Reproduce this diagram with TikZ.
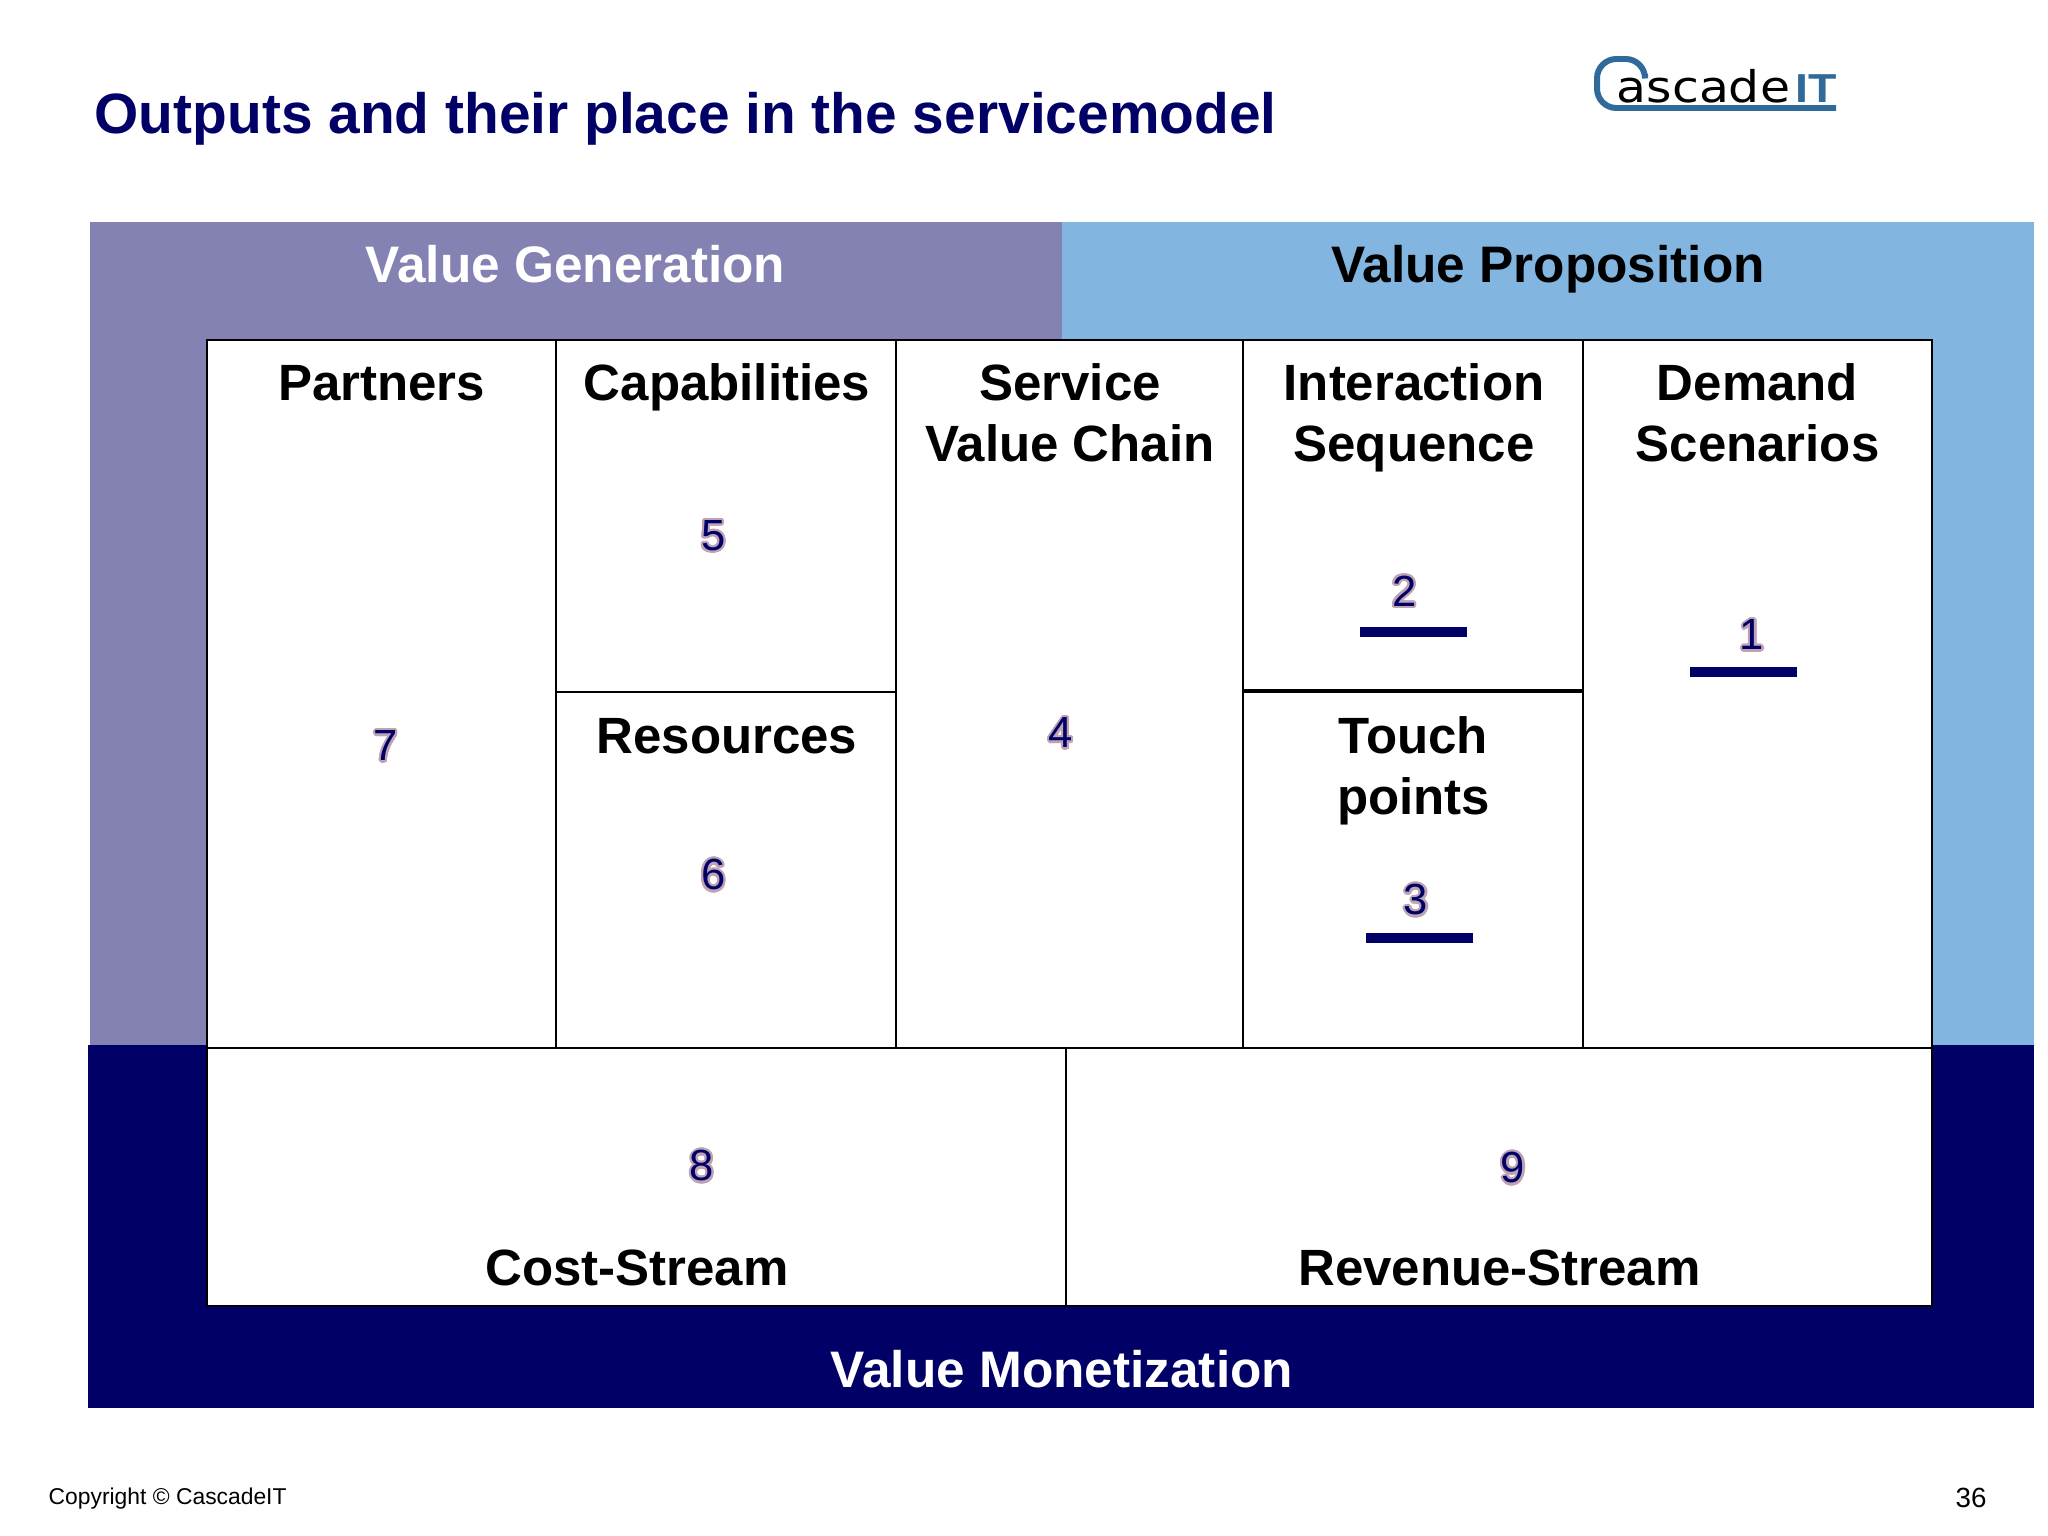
\documentclass[tikz,border=0pt]{standalone}
\usepackage{fontspec}
\usepackage{contour}
\setmainfont{Liberation Sans}
\newfontfamily\logofont{DejaVu Sans}
\contourlength{0.6pt}
\contournumber{24}
\definecolor{genblue}{HTML}{8481B3}
\definecolor{propblue}{HTML}{82B6E0}
\definecolor{navyblue}{HTML}{000066}
\definecolor{logoblue}{HTML}{2F6A9B}
\definecolor{rimcolor}{HTML}{BFA3B5}
\newcommand{\outnum}[1]{\contour{rimcolor}{\textcolor{navyblue}{#1}}}

\begin{document}
\begin{tikzpicture}[x=0.01cm,y=-0.01cm]
	
	\tikzset{cell/.style = {draw=black,fill=white,line width=0.55pt}}
	\tikzset{band/.style = {anchor=base,font=\fontsize{14.6}{17}\selectfont\bfseries}}
	\tikzset{head/.style = {font=\fontsize{14.5}{17.2}\selectfont\bfseries,align=center,inner sep=0pt}}
	\tikzset{number/.style = {font=\fontsize{12.4}{14}\selectfont,inner sep=0pt}}
	\tikzset{rulebar/.style = {fill=navyblue,draw=none}}
	
	\useasboundingbox (0,0) rectangle (2048,1536);
	
	% title and logo
	\node[anchor=west,inner sep=0pt,text=navyblue,font=\fontsize{16.17}{20}\selectfont\bfseries] (title) at (94,119) {Outputs and their place in the servicemodel};
	\draw[logoblue,line width=1.7pt,rounded corners=5.5pt] (1645,74) -- (1645,59) -- (1597,59) -- (1597,108) -- (1836,108);
	\node[anchor=base west,inner sep=0pt,xscale=1.12,transform shape,font=\logofont\fontsize{12.4}{16}\selectfont] (ascade) at (1616,102) {ascade};
	\node[anchor=base west,inner sep=0pt,xscale=1.15,transform shape,text=logoblue,font=\fontsize{11.5}{12}\selectfont\bfseries] (it) at (1795,102) {IT};
	
	% coloured bands
	\fill[genblue] (90,222) rectangle (1062,1046);
	\fill[propblue] (1062,222) rectangle (2034,1046);
	\fill[navyblue] (88,1045) rectangle (2034,1408);
	
	\node[band,text=white] (generation) at (575.5,282) {Value Generation};
	\node[band,text=black] (proposition) at (1548,282) {Value Proposition};
	\node[band,text=white] (monetization) at (1062,1387) {Value Monetization};
	
	% cells
	\draw[cell] (207,340) rectangle (556,1048);
	\draw[cell] (556,340) rectangle (896,692);
	\draw[cell] (556,692) rectangle (896,1048);
	\draw[cell] (896,340) rectangle (1243,1048);
	\draw[cell] (1243,340) rectangle (1583,690);
	\draw[cell] (1243,692) rectangle (1583,1048);
	\draw[cell] (1583,340) rectangle (1932,1048);
	\draw[cell] (207,1048) rectangle (1066,1306);
	\draw[cell] (1066,1048) rectangle (1932,1306);
	
	% cell titles
	\node[head,anchor=base] (partners) at (381.5,400) {Partners};
	\node[head,anchor=base] (capabilities) at (727,400) {Capabilities};
	\node[head,anchor=north] (chain) at (1070,363) {Service\\Value Chain};
	\node[head,anchor=north] (interaction) at (1414,363) {Interaction\\Sequence};
	\node[head,anchor=north] (scenarios) at (1757.5,363) {Demand\\Scenarios};
	\node[head,anchor=base] (resources) at (727,753) {Resources};
	\node[head,anchor=north] (touch) at (1413.5,716) {Touch\\points};
	\node[head,anchor=base] (cost) at (637,1285) {Cost-Stream};
	\node[head,anchor=base] (revenue) at (1499.5,1285) {Revenue-Stream};
	
	% output numbers
	\node[number] (one) at (1752,636) {\outnum{1}};
	\node[number] (two) at (1404.5,592) {\outnum{2}};
	\node[number] (three) at (1416,901) {\outnum{3}};
	\node[number] (four) at (1061,734) {\outnum{4}};
	\node[number] (five) at (713.5,537) {\outnum{5}};
	\node[number] (six) at (713.5,876) {\outnum{6}};
	\node[number] (seven) at (386,747) {\outnum{7}};
	\node[number] (eight) at (702,1167) {\outnum{8}};
	\node[number] (nine) at (1513,1169) {\outnum{9}};
	
	% bars under numbers
	\fill[rulebar] (1360,626.5) rectangle (1467,636.5);
	\fill[rulebar] (1690,666.5) rectangle (1797,676.5);
	\fill[rulebar] (1366,933) rectangle (1473,943);
	
	% footer
	\node[anchor=west,inner sep=0pt,font=\fontsize{6.5}{8}\selectfont] (copyright) at (48,1498.5) {Copyright © CascadeIT};
	\node[inner sep=0pt,font=\fontsize{7.9}{9}\selectfont] (page) at (1971,1498) {36};
	
\end{tikzpicture}
\end{document}
